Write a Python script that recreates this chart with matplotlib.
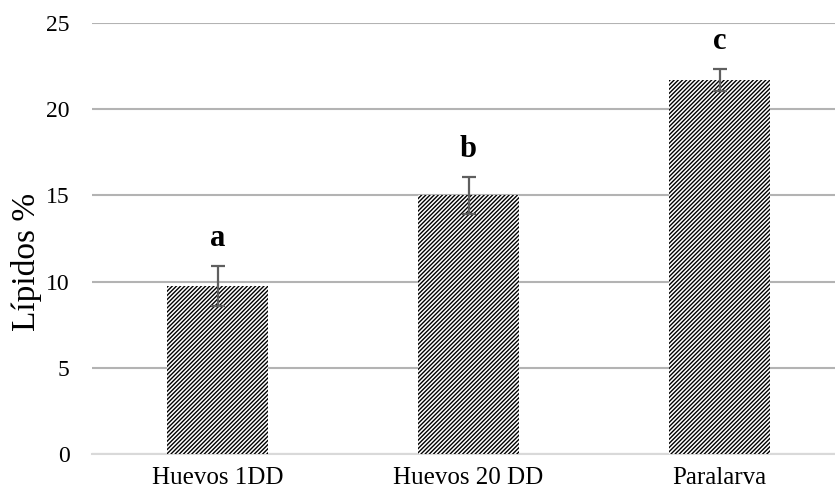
import matplotlib
matplotlib.use("Agg")
import matplotlib.pyplot as plt

categories = ["Huevos 1DD", "Huevos 20 DD", "Paralarva"]
lipidos = [9.75, 15.0, 21.7]
errores = [1.15, 1.05, 0.65]
letras = ["a", "b", "c"]

plt.rcParams["font.family"] = ["Liberation Serif", "DejaVu Serif"]
plt.rcParams["hatch.linewidth"] = 1.0

fig = plt.figure(figsize=(8.35, 4.97), dpi=100)
ax = fig.add_axes([92 / 835, 1 - 454 / 497, 1 - 92 / 835, (454 - 23) / 497])

x = list(range(len(categories)))
ax.bar(x, lipidos, width=0.40, color="white", edgecolor="black",
       linewidth=0, hatch="////////", zorder=2)
ax.errorbar(x, lipidos, yerr=errores, fmt="none", ecolor="#5f5f5f",
            elinewidth=1.6, capsize=5, capthick=1.6, zorder=3)

for xi, v, e, l in zip(x, lipidos, errores, letras):
    ax.text(xi, v + e + 0.75, l, ha="center", va="bottom",
            fontsize=22, fontweight="bold")

ax.set_xlim(-0.5, 2.46)
ax.set_ylim(0, 25)
ax.set_yticks([0, 5, 10, 15, 20, 25])
ax.yaxis.grid(True, color="#b3b3b3", linewidth=1.5, zorder=0)
ax.set_axisbelow(True)
for s in ["top", "right", "left"]:
    ax.spines[s].set_visible(False)
ax.spines["bottom"].set_color("#d9d9d9")
ax.spines["bottom"].set_linewidth(1.5)
ax.spines["bottom"].set_zorder(1)

ax.set_xticks(x)
ax.set_xticklabels(categories)
ax.tick_params(axis="x", length=0, pad=9, labelsize=18)
ax.tick_params(axis="y", length=0, pad=16, labelsize=17)
fig.text(27 / 835, 1 - 262 / 497, "Lípidos %", rotation=90,
         ha="center", va="center", fontsize=24)

fig.savefig("out.png", dpi=100)
